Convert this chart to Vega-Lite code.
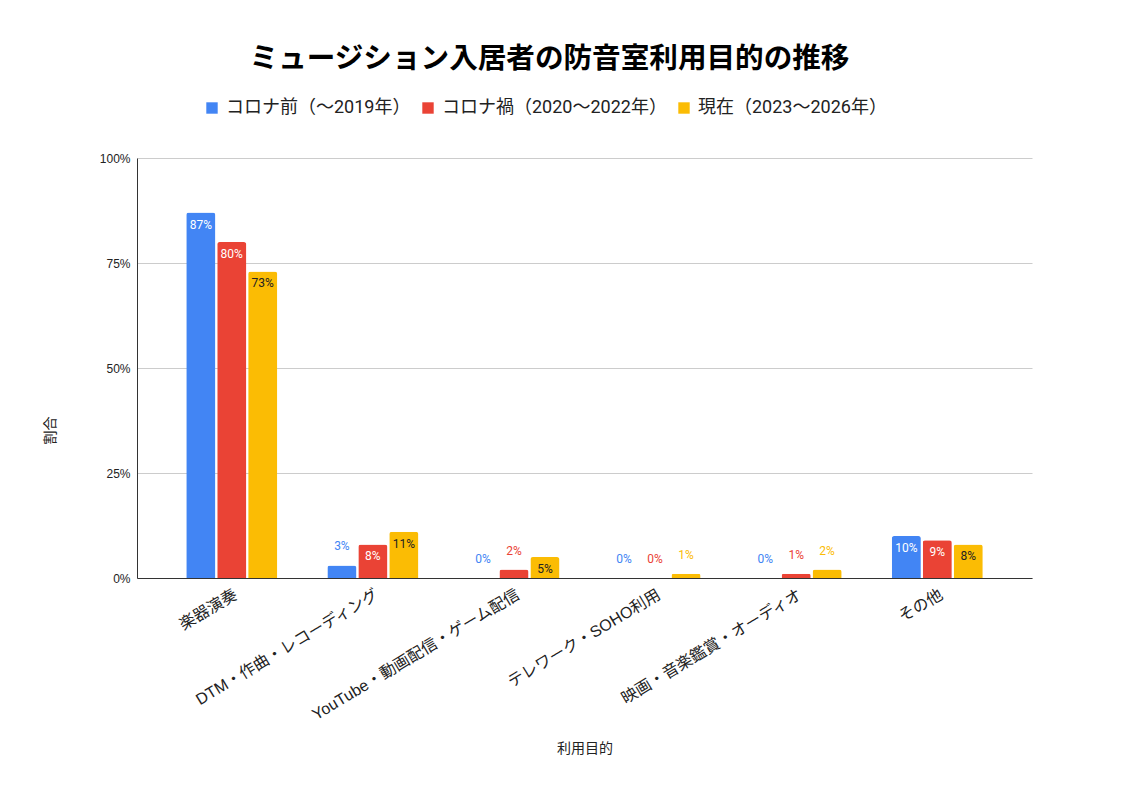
{
  "$schema": "https://vega.github.io/schema/vega-lite/v6.json",
  "autosize": "none",
  "width": 895,
  "height": 420,
  "padding": {"left": 137, "top": 158, "right": 96, "bottom": 220},
  "background": "white",
  "config": {
    "font": "Roboto, Noto Sans CJK JP",
    "view": {"stroke": null}
  },
  "title": {
    "text": "ミュージション入居者の防音室利用目的の推移",
    "font": "Noto Sans CJK JP",
    "fontSize": 28.6,
    "fontWeight": "bold",
    "color": "#000",
    "anchor": "middle",
    "dx": -35,
    "offset": 25
  },
  "data": {
    "values": [
      {"purpose": "楽器演奏", "period": "コロナ前（～2019年）", "share": 0.87},
      {"purpose": "楽器演奏", "period": "コロナ禍（2020～2022年）", "share": 0.80},
      {"purpose": "楽器演奏", "period": "現在（2023～2026年）", "share": 0.73},
      {"purpose": "DTM・作曲・レコーディング", "period": "コロナ前（～2019年）", "share": 0.03},
      {"purpose": "DTM・作曲・レコーディング", "period": "コロナ禍（2020～2022年）", "share": 0.08},
      {"purpose": "DTM・作曲・レコーディング", "period": "現在（2023～2026年）", "share": 0.11},
      {"purpose": "YouTube・動画配信・ゲーム配信", "period": "コロナ前（～2019年）", "share": 0.0},
      {"purpose": "YouTube・動画配信・ゲーム配信", "period": "コロナ禍（2020～2022年）", "share": 0.02},
      {"purpose": "YouTube・動画配信・ゲーム配信", "period": "現在（2023～2026年）", "share": 0.05},
      {"purpose": "テレワーク・SOHO利用", "period": "コロナ前（～2019年）", "share": 0.0},
      {"purpose": "テレワーク・SOHO利用", "period": "コロナ禍（2020～2022年）", "share": 0.0},
      {"purpose": "テレワーク・SOHO利用", "period": "現在（2023～2026年）", "share": 0.01},
      {"purpose": "映画・音楽鑑賞・オーディオ", "period": "コロナ前（～2019年）", "share": 0.0},
      {"purpose": "映画・音楽鑑賞・オーディオ", "period": "コロナ禍（2020～2022年）", "share": 0.01},
      {"purpose": "映画・音楽鑑賞・オーディオ", "period": "現在（2023～2026年）", "share": 0.02},
      {"purpose": "その他", "period": "コロナ前（～2019年）", "share": 0.10},
      {"purpose": "その他", "period": "コロナ禍（2020～2022年）", "share": 0.09},
      {"purpose": "その他", "period": "現在（2023～2026年）", "share": 0.08}
    ]
  },
  "encoding": {
    "x": {
      "field": "purpose",
      "type": "nominal",
      "sort": null,
      "scale": {"paddingInner": 0.355, "paddingOuter": 0.349},
      "axis": {
        "title": "利用目的",
        "titleFontSize": 14,
        "titleFontWeight": "normal",
        "titleColor": "#222222",
        "titleY": 170,
        "titleBaseline": "middle",
        "labelAngle": -31,
        "labelFont": "Liberation Sans, Noto Sans CJK JP",
        "labelFontSize": 16,
        "labelColor": "#222222",
        "labelPadding": 8,
        "labelLimit": 400,
        "ticks": false,
        "domainColor": "#333333",
        "domainWidth": 1.2
      }
    },
    "xOffset": {
      "field": "period",
      "type": "nominal",
      "sort": null,
      "scale": {"paddingInner": 0.06, "paddingOuter": 0}
    },
    "y": {
      "field": "share",
      "type": "quantitative",
      "scale": {"domain": [0, 1]},
      "axis": {
        "title": "割合",
        "titleFontSize": 14,
        "titleFontWeight": "normal",
        "titleColor": "#222222",
        "titleX": -87,
        "titleY": 272,
        "titleBaseline": "middle",
        "values": [0, 0.25, 0.5, 0.75, 1],
        "format": ".0%",
        "labelFont": "Liberation Sans",
        "labelFontSize": 12,
        "labelColor": "#222222",
        "labelPadding": 7,
        "ticks": false,
        "domain": true,
        "domainColor": "#333333",
        "gridColor": "#cccccc"
      }
    }
  },
  "layer": [
    {
      "mark": {"type": "bar", "cornerRadiusTopLeft": 2.5, "cornerRadiusTopRight": 2.5},
      "encoding": {
        "color": {
          "field": "period",
          "type": "nominal",
          "sort": null,
          "scale": {
            "domain": ["コロナ前（～2019年）", "コロナ禍（2020～2022年）", "現在（2023～2026年）"],
            "range": ["#4285F4", "#EA4335", "#FBBC04"]
          },
          "legend": {
            "title": null,
            "orient": "none",
            "direction": "horizontal",
            "legendX": 66,
            "legendY": -59,
            "symbolType": "square",
            "symbolSize": 130,
            "symbolStrokeWidth": 0,
            "symbolOpacity": 1,
            "labelFontSize": 18,
            "labelColor": "#222222",
            "labelFont": "Roboto, Noto Sans CJK JP",
            "labelLimit": 400,
            "columnPadding": 8,
            "labelOffset": 5
          }
        }
      }
    },
    {
      "transform": [{"filter": "datum.share >= 0.05"}],
      "mark": {"type": "text", "baseline": "middle", "dy": 12, "fontSize": 12},
      "encoding": {
        "text": {"field": "share", "type": "quantitative", "format": ".0%"},
        "color": {
          "condition": {"test": "datum.period === '現在（2023～2026年）'", "value": "#222222"},
          "value": "#ffffff"
        }
      }
    },
    {
      "transform": [{"filter": "datum.share < 0.05"}],
      "mark": {"type": "text", "baseline": "middle", "dy": -19, "fontSize": 12},
      "encoding": {
        "text": {"field": "share", "type": "quantitative", "format": ".0%"},
        "color": {
          "field": "period",
          "type": "nominal",
          "sort": null,
          "scale": {
            "domain": ["コロナ前（～2019年）", "コロナ禍（2020～2022年）", "現在（2023～2026年）"],
            "range": ["#4285F4", "#EA4335", "#FBBC04"]
          },
          "legend": null
        }
      }
    }
  ]
}
